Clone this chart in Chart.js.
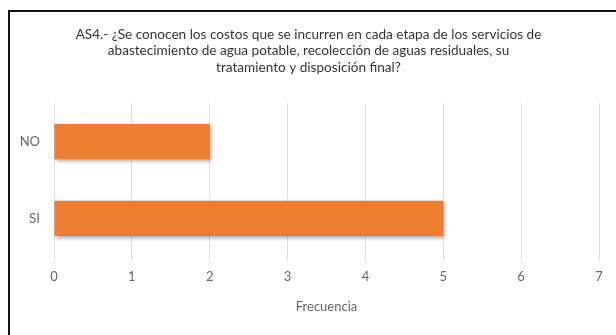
<!DOCTYPE html>
<html>
<head>
<meta charset="utf-8">
<script src="https://cdn.jsdelivr.net/npm/chart.js@4/dist/chart.umd.min.js"></script>
<style>
  html, body { margin: 0; padding: 0; background: #fff; }
  #wrap { position: relative; width: 616px; height: 335px; overflow: hidden; }
  #frame { position: absolute; left: 8px; top: 10px; right: -4px; bottom: -4px;
           border-left: 2px solid #111; border-top: 2px solid #111; pointer-events: none; }
  canvas { position: absolute; left: 0; top: 0; }
</style>
</head>
<body>
<div id="wrap">
  <canvas id="chart" width="616" height="335"></canvas>
  <div id="frame"></div>
</div>
<script>
// Survey answers and their counts
const categories = ['NO', 'SI'];
const frecuencias = [2, 5];
const xTicks = [0, 1, 2, 3, 4, 5, 6, 7];
const titleLines = [
  'AS4.- ¿Se conocen los costos que se incurren en cada etapa de los servicios de',
  'abastecimiento de agua potable, recolección de aguas residuales, su',
  'tratamiento y disposición final?'
];
const axisTitle = 'Frecuencia';

const FONT = 'Lato, "Open Sans", sans-serif';

// Orange bar fill with a soft vertical gradient
function barFill(ctx) {
  const el = ctx.element;
  const chart = ctx.chart;
  if (!el || el.y === undefined || !el.height) return '#ED7D31';
  const h = el.height;
  const g = chart.ctx.createLinearGradient(0, el.y - h / 2, 0, el.y + h / 2);
  g.addColorStop(0, '#F28A46');
  g.addColorStop(0.5, '#EE7B2E');
  g.addColorStop(1, '#E26F22');
  return g;
}

// Light drop shadow under the bars
const barShadow = {
  id: 'barShadow',
  beforeDatasetsDraw(chart) {
    const c = chart.ctx;
    c.save();
    c.shadowColor = 'rgba(0,0,0,0.35)';
    c.shadowBlur = 4;
    c.shadowOffsetX = 1;
    c.shadowOffsetY = 2;
  },
  afterDatasetsDraw(chart) {
    chart.ctx.restore();
  }
};

new Chart(document.getElementById('chart'), {
  type: 'bar',
  data: {
    labels: categories,
    datasets: [{
      data: frecuencias,
      backgroundColor: barFill,
      borderWidth: 0,
      categoryPercentage: 1,
      barPercentage: 0.46
    }]
  },
  options: {
    indexAxis: 'y',
    responsive: false,
    animation: false,
    layout: { padding: { left: 18, right: 17, top: 14, bottom: 20 } },
    plugins: {
      legend: { display: false },
      tooltip: { enabled: false },
      title: {
        display: true,
        text: titleLines,
        color: '#363636',
        font: { family: FONT, size: 13.6, weight: 'normal', lineHeight: 1.18 },
        padding: { top: 13, bottom: 28 }
      }
    },
    scales: {
      x: {
        min: 0,
        max: xTicks[xTicks.length - 1],
        afterBuildTicks(scale) { scale.ticks = xTicks.map(v => ({ value: v })); },
        grid: { color: '#e0e0e0', lineWidth: 1, drawTicks: true, tickLength: 4 },
        border: { display: false },
        ticks: { color: '#666666', font: { family: FONT, size: 13 }, padding: 8 },
        title: {
          display: true,
          text: axisTitle,
          color: '#666666',
          font: { family: FONT, size: 13 },
          padding: { top: 7, bottom: 0 }
        }
      },
      y: {
        grid: { display: false, drawTicks: false },
        border: { display: false },
        ticks: { color: '#666666', font: { family: FONT, size: 13 }, padding: 14 },
        afterFit(scale) { scale.width = 36; }
      }
    }
  },
  plugins: [barShadow]
});
</script>
</body>
</html>
